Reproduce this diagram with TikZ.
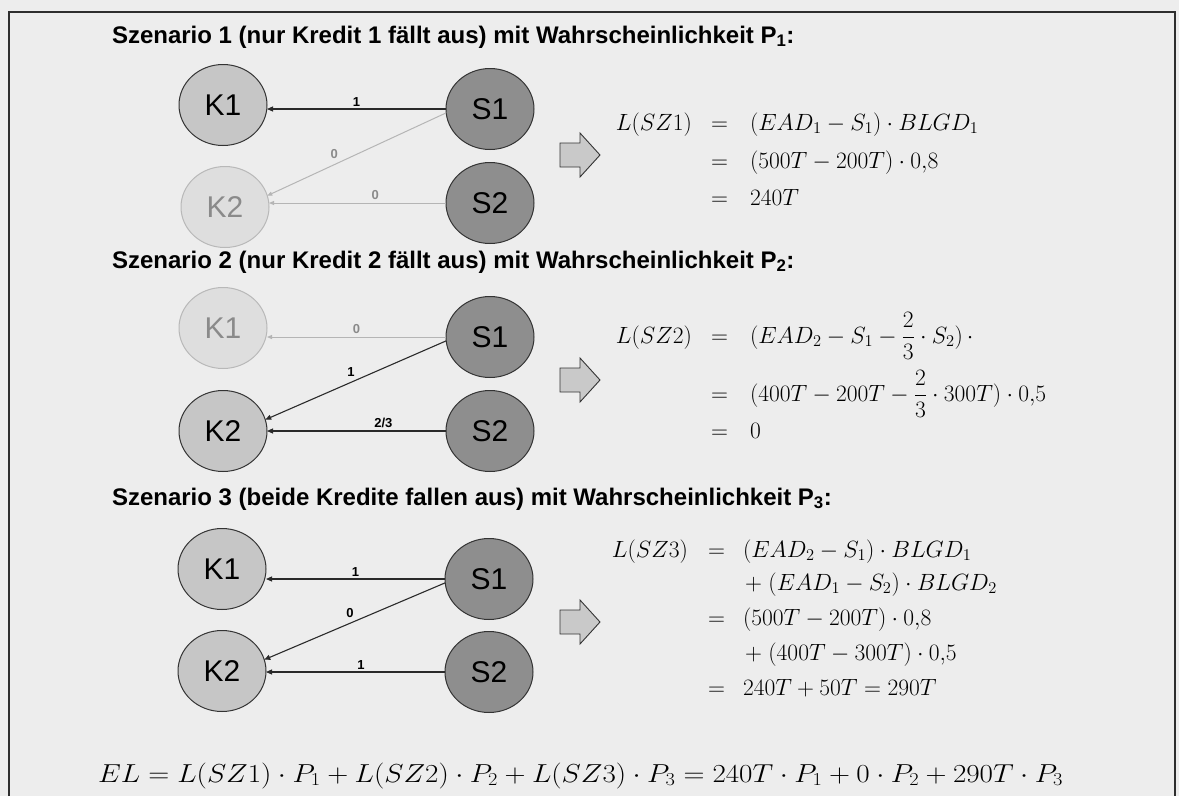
\RequirePackage{fix-cm}
\documentclass[tikz,border=0pt]{standalone}
\usepackage[no-math]{fontspec}
\usepackage{graphicx}
\usetikzlibrary{shapes.geometric,arrows.meta}
\newfontfamily\arial{Liberation Sans}
\definecolor{bgc}{HTML}{EDEDED}
\definecolor{kfill}{HTML}{C6C6C6}
\definecolor{sfill}{HTML}{8E8E8E}
\definecolor{kdimfill}{HTML}{DEDEDE}
\definecolor{kdimedge}{HTML}{B8B8B8}
\definecolor{dimtext}{HTML}{8A8A8A}
\definecolor{edgedark}{HTML}{333333}
\definecolor{linedark}{HTML}{2A2A2A}
\definecolor{linedim}{HTML}{B5B5B5}
\definecolor{framec}{HTML}{2E2E2E}
\definecolor{arrowfill}{HTML}{C9C9C9}
\newcommand{\nodefont}{\arial\fontsize{30}{32}\selectfont}
\newcommand{\lblfont}{\arial\bfseries\fontsize{13}{14}\selectfont}
\newcommand{\titlefont}{\arial\bfseries\fontsize{24}{26}\selectfont}
\newcommand{\mathfont}{\fontsize{23.5}{27}\selectfont}
\begin{document}
\begin{tikzpicture}[x=1pt,y=-1pt,
  every node/.style={inner sep=0pt, outer sep=0pt},
  bubble/.style={ellipse, minimum width=88pt, minimum height=81pt, line width=1pt, font=\nodefont},
  kact/.style={bubble, fill=kfill, draw=edgedark},
  kdim/.style={bubble, fill=kdimfill, draw=kdimedge, text=dimtext},
  sact/.style={bubble, fill=sfill, draw=edgedark},
  act/.style={draw=linedark, line width=1.1pt, -{Triangle[length=6pt,width=5pt]}},
  dimline/.style={draw=linedim, line width=1pt, -{Triangle[length=5pt,width=4pt]}},
  elab/.style={font=\lblfont, text=black, above=3pt},
  dlab/.style={font=\lblfont, text=dimtext, above=3pt},
  titletext/.style={anchor=base west, font=\titlefont},
  lhs/.style={anchor=base east, font=\mathfont},
  rhs/.style={anchor=base west, font=\mathfont},
  blockarrow/.style={fill=arrowfill, draw=edgedark, line width=0.9pt, line join=miter}
]
\useasboundingbox (0,0) rectangle (1179,796);
\fill[bgc] (0,0) rectangle (1179,796);
\draw[framec, line width=1.3pt] (9,796) -- (9,12) -- (1175,12) -- (1175,796);

% ---------- Szenario 1
\node[titletext] (t1) at (112,43) {Szenario 1 (nur Kredit 1 fällt aus) mit Wahrscheinlichkeit P\textsubscript{1}:};
\node[kact] (k1a) at (223,105) {K1};
\node[kdim] (k2a) at (225,207) {K2};
\node[sact] (s1a) at (490,109) {S1};
\node[sact] (s2a) at (490,203) {S2};
\draw[act] (s1a.west) -- node[elab] {1} (k1a.east |- s1a.west);
\draw[dimline] (s1a.185) -- node[dlab, pos=0.6, above left=1pt] {0} (k2a.15);
\draw[dimline] (s2a.west) -- node[dlab, pos=0.4] {0} (k2a.east |- s2a.west);
\draw[blockarrow] (560,143) -- (580,143) -- (580,133) -- (600,155) -- (580,177) -- (580,167) -- (560,167) -- cycle;
\node[lhs] (l1) at (692,130) {$L(SZ1)$};
\node[rhs] (q1a) at (711,130) {$=$};
\node[rhs] (r1a) at (750,130) {$(EAD_1 - S_1)\cdot BLGD_1$};
\node[rhs] (q1b) at (711,168) {$=$};
\node[rhs] (r1b) at (750,168) {$(500T - 200T)\cdot 0{,}8$};
\node[rhs] (q1c) at (711,205) {$=$};
\node[rhs] (r1c) at (750,205) {$240T$};

% ---------- Szenario 2
\node[titletext] (t2) at (112,268) {Szenario 2 (nur Kredit 2 fällt aus) mit Wahrscheinlichkeit P\textsubscript{2}:};
\node[kdim] (k1b) at (223,328) {K1};
\node[kact] (k2b) at (223,431) {K2};
\node[sact] (s1b) at (490,337) {S1};
\node[sact] (s2b) at (490,431) {S2};
\draw[dimline] (s1b.west) -- node[dlab] {0} (k1b.east |- s1b.west);
\draw[act] (s1b.185) -- node[elab, above left=1pt] {1} (k2b.15);
\draw[act] (s2b.west) -- node[elab, pos=0.35] {2/3} (k2b.east |- s2b.west);
\draw[blockarrow] (560,368) -- (580,368) -- (580,358) -- (600,380) -- (580,402) -- (580,392) -- (560,392) -- cycle;
\node[lhs] (l2) at (692,343) {$L(SZ2)$};
\node[rhs] (q2a) at (711,343) {$=$};
\node[rhs] (r2a) at (750,343) {$\displaystyle (EAD_2 - S_1 - \frac{2}{3}\cdot S_2)\,\cdot$};
\node[rhs] (q2b) at (711,401) {$=$};
\node[rhs] (r2b) at (750,401) {$\displaystyle (400T - 200T - \frac{2}{3}\cdot 300T)\cdot 0{,}5$};
\node[rhs] (q2c) at (711,438) {$=$};
\node[rhs] (r2c) at (750,438) {$0$};

% ---------- Szenario 3
\node[titletext] (t3) at (112,505) {Szenario 3 (beide Kredite fallen aus) mit Wahrscheinlichkeit P\textsubscript{3}:};
\node[kact] (k1c) at (222,569) {K1};
\node[kact] (k2c) at (222,671) {K2};
\node[sact] (s1c) at (489,579) {S1};
\node[sact] (s2c) at (489,672) {S2};
\draw[act] (s1c.west) -- node[elab] {1} (k1c.east |- s1c.west);
\draw[act] (s1c.185) -- node[elab, above left=1pt] {0} (k2c.15);
\draw[act] (s2c.west) -- node[elab, pos=0.47] {1} (k2c.east |- s2c.west);
\draw[blockarrow] (560,610) -- (580,610) -- (580,600) -- (600,622) -- (580,644) -- (580,634) -- (560,634) -- cycle;
\node[lhs] (l3) at (688,557) {$L(SZ3)$};
\node[rhs] (q3a) at (708,557) {$=$};
\node[rhs] (r3a) at (743,557) {$(EAD_2 - S_1)\cdot BLGD_1$};
\node[rhs] (r3b) at (745,590) {$+\;(EAD_1 - S_2)\cdot BLGD_2$};
\node[rhs] (q3c) at (708,625) {$=$};
\node[rhs] (r3c) at (743,625) {$(500T - 200T)\cdot 0{,}8$};
\node[rhs] (r3d) at (745,660) {$+\;(400T - 300T)\cdot 0{,}5$};
\node[rhs] (q3e) at (708,695) {$=$};
\node[rhs] (r3e) at (743,695) {$240T + 50T = 290T$};

% ---------- EL
\node[anchor=base west, font=\fontsize{26}{30}\selectfont] (el) at (98,782)
  {\resizebox{965pt}{\height}{$EL = L(SZ1)\cdot P_1 + L(SZ2)\cdot P_2 + L(SZ3)\cdot P_3 = 240T\cdot P_1 + 0\cdot P_2 + 290T\cdot P_3$}};
\end{tikzpicture}
\end{document}
